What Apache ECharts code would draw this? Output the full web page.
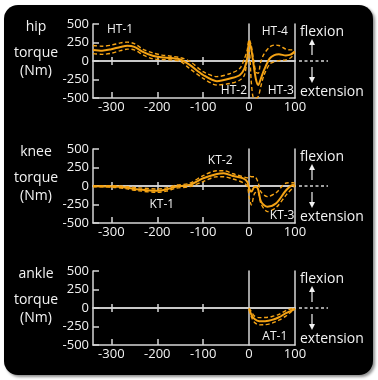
<!DOCTYPE html>
<html>
<head>
<meta charset="utf-8">
<script src="https://cdn.jsdelivr.net/npm/echarts@6/dist/echarts.min.js"></script>
<style>
html, body { margin: 0; padding: 0; background: #fff; }
#wrap { position: relative; width: 378px; height: 380px; }
#panel { position: absolute; left: 4px; top: 5px; width: 369px; height: 370px; background: #000; border-radius: 14px; box-shadow: 2px 2px 3px rgba(0,0,0,0.45); }
#main { position: absolute; left: 0; top: 0; width: 378px; height: 380px; }
</style>
</head>
<body>
<div id="wrap"><div id="panel"></div><div id="main"></div></div>
<script>
// torque curves, x = time, y = Nm (mean and +/- SD)
var hipX = [-340, -320, -300, -280, -265, -250, -230, -210, -190, -170, -150, -130, -100, -70, -40, -20, -10, -4, 0, 5, 10, 15, 20, 25, 32, 45, 55, 65, 80, 90, 100];
var hipMean = [150, 140, 160, 190, 205, 190, 120, 70, 50, 40, 20, -50, -189, -272, -234, -189, -99, 40, 262, 150, -60, -250, -324, -250, -130, 35, 80, 90, 75, 85, 130];
var hipUpper = [210, 200, 215, 245, 255, 235, 155, 110, 80, 65, 45, 0, -144, -211, -166, -99, 36, 150, 290, 200, 0, -150, -165, -20, 90, 190, 215, 210, 160, 150, 150];
var hipLower = [100, 90, 105, 140, 160, 150, 80, 30, 20, 15, -5, -99, -234, -324, -302, -257, -189, 36, 150, -300, -500, -500, -480, -360, -200, -40, -10, 5, 15, 40, 100];

var kneeX = [-340, -300, -270, -240, -200, -180, -160, -130, -100, -70, -55, -35, -13, -4, 0, 5, 12, 19, 26, 40, 59, 81, 96, 100];
var kneeMean = [-5, -8, -20, -47, -65, -47, -10, 15, 104, 162, 171, 135, 104, 58, -31, -76, -9, -31, -211, -279, -234, -54, 14, 0];
var kneeUpper = [5, 5, -5, -25, -40, -25, 10, 36, 140, 207, 207, 165, 126, 110, 135, 126, 126, 60, -80, -144, -90, 40, 45, 36];
var kneeLower = [-10, -15, -35, -65, -85, -70, -30, -9, 60, 126, 125, 95, 45, 0, -144, -256, -99, -80, -240, -346, -290, -120, -20, 0];

var ankleX = [0, 5, 12, 22, 35, 50, 65, 80, 92, 100];
var ankleMean = [-10, -90, -150, -180, -178, -160, -125, -70, -35, -10];
var ankleUpper = [0, -50, -110, -130, -128, -115, -85, -35, -10, 0];
var ankleLower = [-20, -120, -195, -228, -225, -205, -165, -110, -50, -15];

// phase tags: [name, x, y]
var hipTags = [['HT-1', -281, 419], ['HT-2', -33, -405], ['HT-3', 69, -405], ['HT-4', 56, 392]];
var kneeTags = [['KT-1', -190, -257], ['KT-2', -63, 338], ['KT-3', 72, -405]];
var ankleTags = [['AT-1', 56, -392]];

var xTicks = [-300, -200, -100];
var xLabels = [-300, -200, -100, 0, 100];
var joints = ['hip', 'knee', 'ankle'];

var FONT = '"Open Sans", "DejaVu Sans", sans-serif';
var AXIS = '#d6d6d6';
var ORANGE = '#f5a314';
var TEXT = '#f2f2f2';

var panels = [
	{ x: hipX, mean: hipMean, upper: hipUpper, lower: hipLower, tags: hipTags },
	{ x: kneeX, mean: kneeMean, upper: kneeUpper, lower: kneeLower, tags: kneeTags },
	{ x: ankleX, mean: ankleMean, upper: ankleUpper, lower: ankleLower, tags: ankleTags }
];
var panelTop = [24, 149, 271];
var gLeft = 93, gWidth = 202, gHeight = 74;

function pairs(xs, ys) {
	var out = [];
	for (var i = 0; i < xs.length; i++) out.push([xs[i], ys[i]]);
	return out;
}

var grid = [], xAxis = [], yAxis = [], series = [], graphic = [];
var axisLine = { color: AXIS, width: 1.5 };

panels.forEach(function (p, i) {
	var top = panelTop[i];
	var gA = 2 * i, gB = 2 * i + 1;
	grid.push({ left: gLeft, top: top, width: gWidth, height: gHeight });
	grid.push({ left: gLeft, top: top, width: gWidth, height: gHeight });

	// grid A: frame with labels
	xAxis.push({
		type: 'value', gridIndex: gA, position: 'bottom', min: -340, max: 100,
		axisLine: { onZero: false, lineStyle: axisLine },
		axisTick: { inside: true, length: 6, customValues: xTicks, lineStyle: axisLine },
		axisLabel: { customValues: xLabels, color: TEXT, fontSize: 13, fontFamily: FONT, margin: 3 },
		splitLine: { show: false }
	});
	// grid B: zero line with ticks both ways
	xAxis.push({
		type: 'value', gridIndex: gB, position: 'bottom', min: -340, max: 100,
		axisLine: { onZero: true, onZeroAxisIndex: 3 * i + 2, lineStyle: axisLine },
		axisTick: { inside: true, length: 4, customValues: xTicks, lineStyle: axisLine },
		axisLabel: { show: false }, splitLine: { show: false }
	});
	xAxis.push({
		type: 'value', gridIndex: gB, position: 'top', min: -340, max: 100,
		axisLine: { onZero: true, onZeroAxisIndex: 3 * i + 2, lineStyle: axisLine },
		axisTick: { inside: true, length: 4, customValues: xTicks, lineStyle: axisLine },
		axisLabel: { show: false }, splitLine: { show: false }
	});

	yAxis.push({
		type: 'value', gridIndex: gA, position: 'left', min: -500, max: 500, interval: 250,
		axisLine: { show: true, onZero: false, lineStyle: axisLine },
		axisTick: { show: true, inside: true, length: 6, lineStyle: axisLine },
		axisLabel: { color: TEXT, fontSize: 13, fontFamily: FONT, margin: 4 },
		splitLine: { show: false }
	});
	yAxis.push({
		type: 'value', gridIndex: gA, position: 'right', min: -500, max: 500,
		axisLine: { show: true, onZero: false, lineStyle: axisLine },
		axisTick: { show: false }, axisLabel: { show: false }, splitLine: { show: false }
	});
	yAxis.push({
		type: 'value', gridIndex: gB, position: 'left', min: -500, max: 500,
		axisLine: { show: true, onZero: true, onZeroAxisIndex: 3 * i + 1, lineStyle: axisLine },
		axisTick: { show: false }, axisLabel: { show: false }, splitLine: { show: false }
	});

	var base = { type: 'line', xAxisIndex: 3 * i, yAxisIndex: 3 * i, showSymbol: false, smooth: 0.3, silent: true, z: 3 };
	series.push(Object.assign({}, base, {
		name: joints[i] + ' mean', data: pairs(p.x, p.mean),
		lineStyle: { color: ORANGE, width: 2 },
		markPoint: {
			symbol: 'circle', symbolSize: 0, silent: true,
			label: { show: true, position: 'inside', formatter: '{b}', color: TEXT, fontSize: 12, fontFamily: FONT },
			data: p.tags.map(function (t) { return { name: t[0], coord: [t[1], t[2]] }; })
		}
	}));
	series.push(Object.assign({}, base, {
		name: joints[i] + ' +SD', data: pairs(p.x, p.upper),
		lineStyle: { color: ORANGE, width: 1.4, type: [4, 2.5] }
	}));
	series.push(Object.assign({}, base, {
		name: joints[i] + ' -SD', data: pairs(p.x, p.lower),
		lineStyle: { color: ORANGE, width: 1.4, type: [4, 2.5] }
	}));

	// side texts and arrows
	var tf = function (size) { return size + 'px ' + FONT; };
	graphic.push({ type: 'text', x: 36, y: top + 3, style: { text: joints[i], fill: TEXT, font: tf(14), align: 'center', verticalAlign: 'middle', textAlign: 'center', textVerticalAlign: 'middle' } });
	graphic.push({ type: 'text', x: 36, y: top + 29, style: { text: 'torque', fill: TEXT, font: tf(14), align: 'center', verticalAlign: 'middle', textAlign: 'center', textVerticalAlign: 'middle' } });
	graphic.push({ type: 'text', x: 36, y: top + 47, style: { text: '(Nm)', fill: TEXT, font: tf(14), align: 'center', verticalAlign: 'middle', textAlign: 'center', textVerticalAlign: 'middle' } });
	graphic.push({ type: 'text', x: 300, y: top + 8, style: { text: 'flexion', fill: TEXT, font: tf(14), align: 'left', verticalAlign: 'middle', textAlign: 'left', textVerticalAlign: 'middle' } });
	graphic.push({ type: 'text', x: 300, y: top + 68, style: { text: 'extension', fill: TEXT, font: tf(14), align: 'left', verticalAlign: 'middle', textAlign: 'left', textVerticalAlign: 'middle' } });
	graphic.push({ type: 'line', shape: { x1: 299, y1: top + 37, x2: 328, y2: top + 37 }, style: { stroke: AXIS, lineWidth: 1.3, lineDash: [3, 2.5] } });
	graphic.push({ type: 'line', shape: { x1: 312, y1: top + 20, x2: 312, y2: top + 31 }, style: { stroke: TEXT, lineWidth: 1.2 } });
	graphic.push({ type: 'polygon', shape: { points: [[309, top + 21], [315, top + 21], [312, top + 15]] }, style: { fill: TEXT } });
	graphic.push({ type: 'line', shape: { x1: 312, y1: top + 43, x2: 312, y2: top + 54 }, style: { stroke: TEXT, lineWidth: 1.2 } });
	graphic.push({ type: 'polygon', shape: { points: [[309, top + 53], [315, top + 53], [312, top + 59]] }, style: { fill: TEXT } });
});

var myChart = echarts.init(document.getElementById('main'), null, { renderer: 'canvas' });
myChart.setOption({
	backgroundColor: 'transparent',
	animation: false,
	grid: grid,
	xAxis: xAxis,
	yAxis: yAxis,
	series: series,
	graphic: graphic
});
</script>
</body>
</html>
